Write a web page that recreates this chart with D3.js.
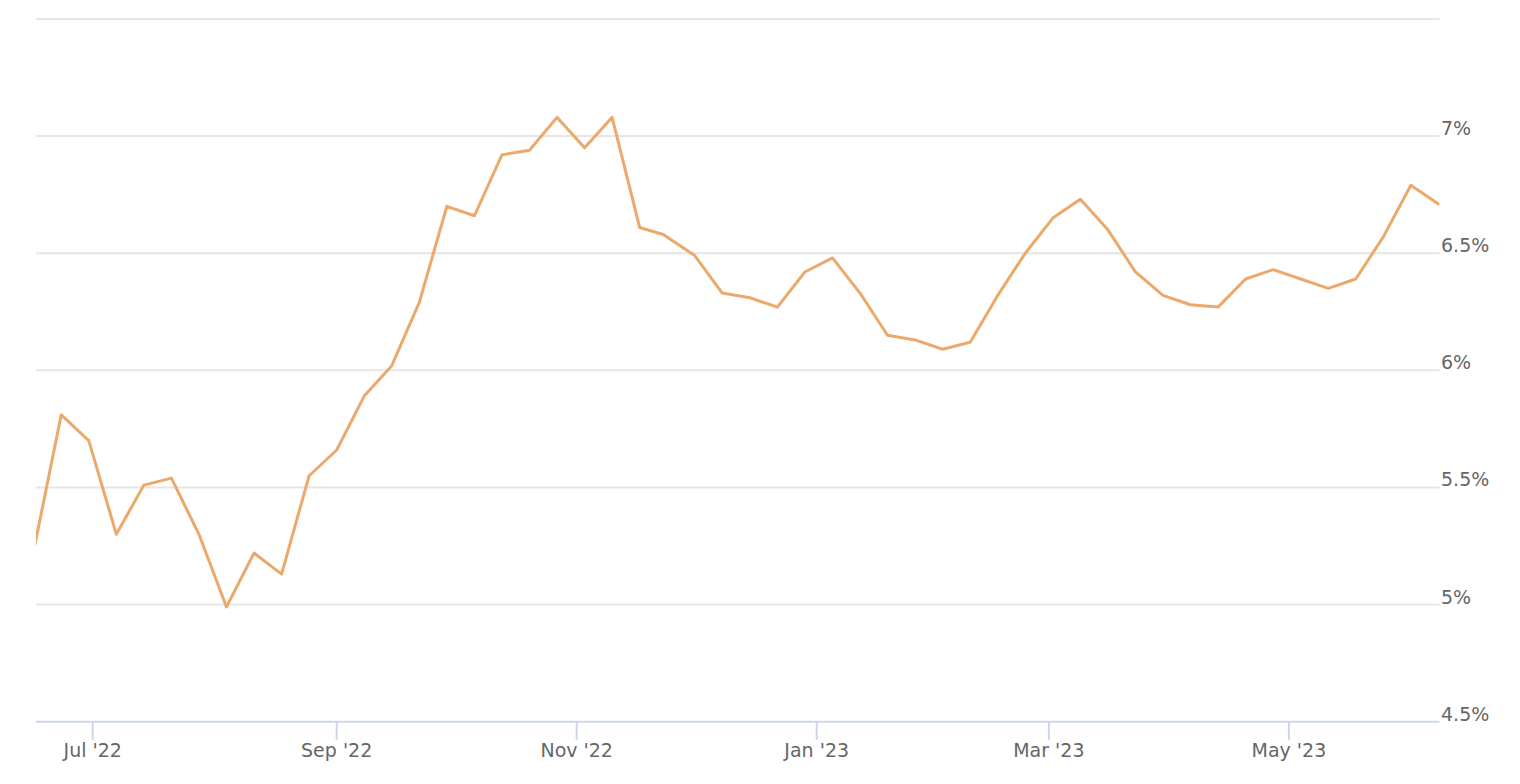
<!DOCTYPE html>
<html>
<head>
<meta charset="utf-8">
<script src="https://cdn.jsdelivr.net/npm/d3@7"></script>
<style>
  html, body { margin: 0; padding: 0; background: #fff; }
  svg { display: block; }
  text { font-family: "DejaVu Sans", Verdana, sans-serif; font-size: 19px; fill: #666666; }
</style>
</head>
<body>
<svg id="chart" width="1520" height="784"></svg>
<script>
// ---- data ----
const dates = [
  "2022-06-16","2022-06-23","2022-06-30","2022-07-07","2022-07-14","2022-07-21","2022-07-28",
  "2022-08-04","2022-08-11","2022-08-18","2022-08-25","2022-09-01","2022-09-08","2022-09-15",
  "2022-09-22","2022-09-29","2022-10-06","2022-10-13","2022-10-20","2022-10-27","2022-11-03",
  "2022-11-10","2022-11-17","2022-11-23","2022-12-01","2022-12-08","2022-12-15","2022-12-22",
  "2022-12-29","2023-01-05","2023-01-12","2023-01-19","2023-01-26","2023-02-02","2023-02-09",
  "2023-02-16","2023-02-23","2023-03-02","2023-03-09","2023-03-16","2023-03-23","2023-03-30",
  "2023-04-06","2023-04-13","2023-04-20","2023-04-27","2023-05-04","2023-05-11","2023-05-18",
  "2023-05-25","2023-06-01","2023-06-08"
];
const rates = [
  5.23, 5.81, 5.70, 5.30, 5.51, 5.54, 5.30, 4.99, 5.22, 5.13,
  5.55, 5.66, 5.89, 6.02, 6.29, 6.70, 6.66, 6.92, 6.94, 7.08,
  6.95, 7.08, 6.61, 6.58, 6.49, 6.33, 6.31, 6.27, 6.42, 6.48,
  6.33, 6.15, 6.13, 6.09, 6.12, 6.32, 6.50, 6.65, 6.73, 6.60,
  6.42, 6.32, 6.28, 6.27, 6.39, 6.43, 6.39, 6.35, 6.39, 6.57,
  6.79, 6.71
];
const yTicks = [4.5, 5, 5.5, 6, 6.5, 7, 7.5];
const yTickLabels = ["4.5%", "5%", "5.5%", "6%", "6.5%", "7%", ""];
const xTicks = ["2022-07-01","2022-09-01","2022-11-01","2023-01-01","2023-03-01","2023-05-01"];
const xTickLabels = ["Jul '22","Sep '22","Nov '22","Jan '23","Mar '23","May '23"];

// ---- layout ----
const parse = d3.utcParse("%Y-%m-%d");
const plotLeft = 36, plotRight = 1439.5, plotBottom = 722, plotTop = 18;

const x = d3.scaleUtc()
  .domain([parse("2022-06-16"), parse("2023-06-08")])
  .range([33.7, 1438.4]);
const y = d3.scaleLinear()
  .domain([4.5, 7.5])
  .range([721.7, 19]);

const svg = d3.select("#chart");

svg.append("defs").append("clipPath").attr("id", "clip")
  .append("rect")
  .attr("x", plotLeft).attr("y", 0)
  .attr("width", plotRight - plotLeft).attr("height", 784);

// gridlines (excluding baseline, which is the x axis line)
svg.append("g").selectAll("line")
  .data(yTicks.filter(v => v !== 4.5))
  .join("line")
  .attr("x1", plotLeft).attr("x2", plotRight)
  .attr("y1", d => y(d)).attr("y2", d => y(d))
  .attr("stroke", "#e6e6e6").attr("stroke-width", 2);

// y labels (right side, above gridline)
svg.append("g").selectAll("text")
  .data(yTicks.map((v, i) => ({v, l: yTickLabels[i]})).filter(d => d.l))
  .join("text")
  .attr("x", 1441)
  .attr("y", d => y(d.v) - 1)
  .attr("text-anchor", "start")
  .text(d => d.l);

// x axis line
svg.append("line")
  .attr("x1", plotLeft).attr("x2", plotRight)
  .attr("y1", y(4.5)).attr("y2", y(4.5))
  .attr("stroke", "#ccd6eb").attr("stroke-width", 2);

// x ticks and labels
const xg = svg.append("g");
xg.selectAll("line")
  .data(xTicks)
  .join("line")
  .attr("x1", d => x(parse(d))).attr("x2", d => x(parse(d)))
  .attr("y1", y(4.5)).attr("y2", y(4.5) + 18)
  .attr("stroke", "#ccd6eb").attr("stroke-width", 2);
xg.selectAll("text")
  .data(xTicks.map((d, i) => ({d, l: xTickLabels[i]})))
  .join("text")
  .attr("x", d => x(parse(d.d)))
  .attr("y", 756.5)
  .attr("text-anchor", "middle")
  .text(d => d.l);

// line
const pts = dates.map((d, i) => ({date: parse(d), v: rates[i]}));
const line = d3.line().x(d => x(d.date)).y(d => y(d.v));
svg.append("path")
  .datum(pts)
  .attr("clip-path", "url(#clip)")
  .attr("fill", "none")
  .attr("stroke", "#eba96b")
  .attr("stroke-width", 3)
  .attr("stroke-linejoin", "round")
  .attr("stroke-linecap", "round")
  .attr("d", line);
</script>
</body>
</html>
